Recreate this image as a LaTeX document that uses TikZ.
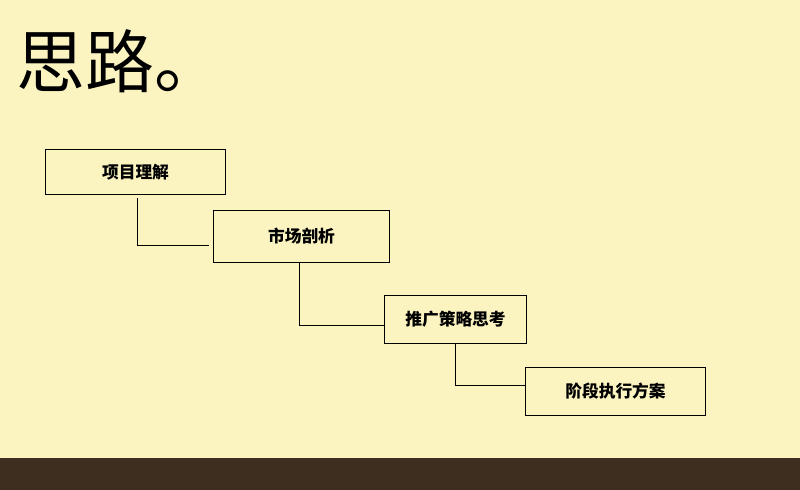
\documentclass[tikz,border=0pt]{standalone}
\usepackage{fontspec}
\newfontfamily\cjk{Noto Sans CJK SC}
\usetikzlibrary{positioning}
\definecolor{paper}{HTML}{FBF4C1}
\definecolor{floor}{HTML}{3D2E20}
\tikzstyle{stagebox} = [rectangle, draw=black, fill=paper, line width=0.7pt, minimum height=1.2cm, text centered, inner sep=0pt, font=\cjk\bfseries\fontsize{11.9}{14}\selectfont]
\tikzstyle{heading} = [anchor=west, inner sep=0pt, font=\cjk\fontsize{49}{54}\selectfont]
\tikzstyle{link} = [line width=0.7pt, black]

\begin{document}
\begin{tikzpicture}[x=0.025cm, y=-0.025cm]

%% BACKGROUND

\useasboundingbox (0,0) rectangle (800,490);
\fill [paper] (0,0) rectangle (800,490);
\fill [floor] (0,458) rectangle (800,490);

%% NODES

\node (title) [heading] at (16,61) {思路。};
\node (understand) [stagebox, minimum width=4.475cm, minimum height=1.1cm] at (135.5,172) {项目理解};
\node (market) [stagebox, minimum width=4.375cm, minimum height=1.275cm] at (301.5,236.5) {市场剖析};
\node (strategy) [stagebox, minimum width=3.525cm] at (455.5,319) {推广策略思考};
\node (execute) [stagebox, minimum width=4.475cm] at (615.5,391) {阶段执行方案};

%% LINKS

\draw [link] ([xshift=0.04cm, yshift=-0.1cm]understand.south) |- ([xshift=-0.1cm, yshift=-0.2125cm]market.west);
\draw [link] ([xshift=-0.04cm, yshift=-0.02cm]market.south) |- ([yshift=-0.15cm]strategy.west);
\draw [link] ([yshift=-0.02cm]strategy.south) |- ([yshift=0.15cm]execute.west);

\end{tikzpicture}
\end{document}
